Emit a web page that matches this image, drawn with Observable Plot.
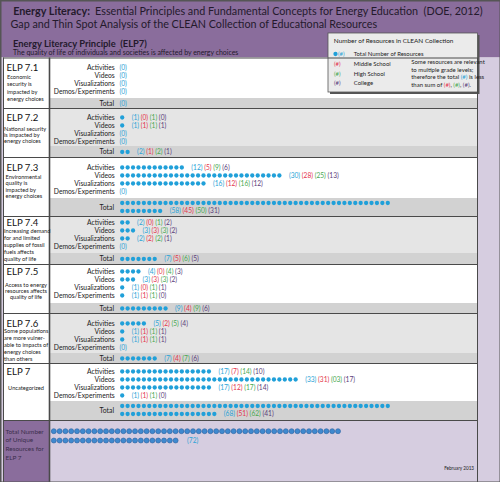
<!DOCTYPE html>
<html><head><meta charset="utf-8">
<script src="https://cdn.jsdelivr.net/npm/d3@7"></script>
<script src="https://cdn.jsdelivr.net/npm/@observablehq/plot@0.6"></script>
<style>html,body{margin:0;padding:0;background:#fff} svg{display:block}</style>
</head><body><div id="chart"></div>
<script>
// ---------------- data ----------------
const principles = ["ELP 7.1","ELP 7.2","ELP 7.3","ELP 7.4","ELP 7.5","ELP 7.6","ELP 7"];
const descriptions = [
  ["Economic","security is","impacted by","energy choices"],
  ["National security","is impacted by","energy choices"],
  ["Environmental","quality is","impacted by","energy choices"],
  ["Increasing demand","for and limited","supplies of fossil","fuels affects","quality of life"],
  ["Access to energy","resources affects","quality of life"],
  ["Some populations","are more vulner-","able to impacts of","energy choices","than others"],
  ["Uncategorized"]
];
const resourceTypes = ["Activities","Videos","Visualizations","Demos/Experiments"];
const totalByType   = [[0,0,0,0],[1,1,0,0],[12,30,16,0],[2,3,2,0],[4,3,1,1],[5,1,1,0],[17,33,17,1]];
const middleByType  = [[null,null,null,null],[0,1,null,null],[5,28,12,null],[0,3,2,null],[0,3,0,1],[2,1,1,null],[7,31,12,1]];
const highByType    = [[null,null,null,null],[1,1,null,null],[9,25,16,null],[1,3,2,null],[4,3,1,1],[5,1,1,null],[14,"03",17,1]];
const collegeByType = [[null,null,null,null],[0,1,null,null],[6,13,12,null],[2,2,1,null],[3,2,1,0],[4,1,1,null],[10,17,14,0]];
const totalByPrinciple   = [0,2,58,7,9,7,68];
const middleByPrinciple  = [null,1,45,5,4,4,51];
const highByPrinciple    = [null,2,50,6,9,7,62];
const collegeByPrinciple = [null,1,31,5,6,6,41];
const uniqueTotal = 72;
const legendLabels = ["Total Number of Resources","Middle School","High School","College"];

// ---------------- layout & style ----------------
const W = 500, H = 482;
const purple = "#8a6d9c", lavender = "#d6cde0", line = "#4a4a4a";
const C = {total:"#2aa3d6", middle:"#e4344c", high:"#47a850", college:"#5a3d7a", dot:"#20a0d9", ink:"#222"};
const secTop    = [57.5,108,157,216,264,313,363];
const secBottom = [108,157,216,264,313,363,420];
const firstRow  = [67,117,167,222,271,323,371];
const bandTop   = [98,146,198,253,303,353,401];
const descStart = [76.5,128.5,177,231,284.5,331,388];
const descStep  = [7.5,6.2,6.1,6.8,6.3,6.8,0];
const descX     = [6.5,3.5,5,3.5,25.5,3.5,25.5];
const descAnchor= ["start","start","start","start","middle","start","middle"];
const rowStep = 8, dotX0 = 121.7, dx = 5.42, perRow = 50;

const ctx = document.createElement("canvas").getContext("2d");
const FONT = "Lato";
function tw(s, size, weight="normal"){ ctx.font = `${weight} ${size}px ${FONT}`; return ctx.measureText(s).width; }
function fit(s, w, weight="normal"){ return 100*w/tw(s,100,weight); }

const rects = [], hrules = [], vrules = [], dots = [], bigDots = [], texts = [];
function addText(x,y,text,size,fill=C.ink,weight="normal",anchor="start"){ texts.push({x,y,text,fill,size:+size.toFixed(2),weight,anchor}); }
function addSegs(x,y,segs,size,weight="normal"){ let cx=x; segs.forEach(([t,f])=>{ addText(cx,y,t,size,f,weight,"start"); cx+=tw(t,size,weight);}); return cx; }

const numSize = fit("(30) (28) (25) (13)", 50);
function numberSegs(t,m,h,c){
  if (!t) return [["(0)",C.total]];
  return [["("+t+") ",C.total],["("+m+") ",C.middle],["("+h+") ",C.high],["("+c+")",C.college]];
}

// backgrounds
rects.push({x1:0,x2:W,y1:0,y2:secTop[0],fill:purple});
rects.push({x1:0,x2:W,y1:secTop[0],y2:H,fill:lavender});
principles.forEach((p,i)=>{
  rects.push({x1:3,x2:49,y1:secTop[i],y2:secBottom[i],fill:"#fff"});
  rects.push({x1:49,x2:477,y1:secTop[i],y2:bandTop[i],fill:i%2?"#e5e5e5":"#fff"});
  rects.push({x1:49,x2:477,y1:bandTop[i],y2:secBottom[i],fill:"#d2d2d2"});
  hrules.push({y:secBottom[i],x1:3,x2:477,w:1});
});
rects.push({x1:3,x2:49,y1:secBottom[6],y2:H,fill:purple});
hrules.push({y:secTop[0],x1:3,x2:477,w:1});
vrules.push({x:49,y1:secTop[0],y2:H,w:1.6},{x:477,y1:secTop[0],y2:H,w:1},{x:3,y1:secTop[0],y2:H,w:1});

// left labels and descriptions
const elpSize = fit("ELP 7.1", 32);
const descSize = fit("energy choices", 37);
principles.forEach((p,i)=>{
  addText(6,firstRow[i],p,elpSize,"#111");
  descriptions[i].forEach((d,k)=> addText(descX[i],descStart[i]+k*descStep[i],d,descSize,"#222","normal",descAnchor[i]));
});

// resource rows
const labSize = fit("Demos/Experiments", 61);
const totSize = fit("Total", 14.5);
principles.forEach((p,i)=>{
  resourceTypes.forEach((t,j)=>{
    const y = firstRow[i]+j*rowStep, n = totalByType[i][j];
    addText(114.3,y,t,labSize,C.ink,"normal","end");
    for (let k=0;k<n;k++) dots.push({x:dotX0+k*dx,y});
    const x = n ? dotX0+(n-1)*dx+9.5 : 119;
    addSegs(x,y,numberSegs(n,middleByType[i][j],highByType[i][j],collegeByType[i][j]),numSize);
  });
  const n = totalByPrinciple[i];
  const bandMid = (bandTop[i]+secBottom[i])/2;
  addText(113.5,bandMid,"Total",totSize,C.ink,"normal","end");
  const nRows = Math.max(1,Math.ceil(n/perRow));
  const rowY = r => nRows===1 ? bandMid : bandTop[i]+4.5+r*8;
  for (let k=0;k<n;k++) dots.push({x:dotX0+(k%perRow)*dx,y:rowY(Math.floor(k/perRow))});
  const lastCount = n ? n-(nRows-1)*perRow : 0;
  const x = n ? dotX0+(lastCount-1)*dx+9.5 : 119;
  addSegs(x,rowY(nRows-1),numberSegs(n,middleByPrinciple[i],highByPrinciple[i],collegeByPrinciple[i]),numSize);
});

// unique total
const ux0 = 53.3, udx = 5.8, uRowY = [430.7,440];
for (let k=0;k<uniqueTotal;k++) bigDots.push({x:ux0+(k%perRow)*udx,y:uRowY[Math.floor(k/perRow)]});
addText(ux0+(uniqueTotal-perRow-1)*udx+11.5,uRowY[1],"("+uniqueTotal+")",numSize,C.total);
const botSize = fit("Resources for", 38.3);
["Total Number","of Unique","Resources for","ELP 7"].forEach((s,k)=>addText(5,431+k*8.7,s,botSize,"#3b2d4c"));
addText(473.5,468,"February 2013",fit("February 2013",30),"#222","normal","end");

// header
const t1b = "Energy Literacy:", t1n = "Essential Principles and Fundamental Concepts for Energy Education\u00a0 (DOE, 2012)";
const t1Size = 470.3/((tw(t1b,100,"bold")+tw(t1n,100))/100+0.45);
addText(12.7,11.5,t1b,t1Size,"#241a2c","bold");
addText(12.7+tw(t1b,t1Size,"bold")+0.45*t1Size,11.5,t1n,t1Size,"#241a2c");
const t2 = "Gap and Thin Spot Analysis of the CLEAN Collection of Educational Resources";
addText(10,24.5,t2,fit(t2,367.7),"#241a2c");
const t3 = "Energy Literacy Principle\u00a0 (ELP7)";
addText(12.5,43.5,t3,fit(t3,134.5,"bold"),"#241a2c","bold");
const t4 = "The quality of life of individuals and societies is affected by energy choices";
addText(12.5,52.7,t4,fit(t4,226.5),"#241a2c");

// legend
const legBox = {x1:328,x2:477.5,y1:33,y2:92};
rects.push({x1:legBox.x1+2,x2:legBox.x2+2,y1:legBox.y1+2,y2:legBox.y2+2,fill:"#555"});
rects.push({...legBox,fill:"#ebebeb",stroke:"#555"});
const legT = "Number of Resources in CLEAN Collection";
addText(333.3,40.7,legT,fit(legT,120),"#222");
const legSize = fit("Total Number of Resources",70);
const legY = [53.5,63.3,73.1,82.9];
const legCols = [C.total,C.middle,C.high,C.college];
dots.push({x:335,y:legY[0],legend:true});
legendLabels.forEach((l,k)=>{
  addText(k===0?337.5:333.5,legY[k],"(#)",legSize,legCols[k]);
  addText(353.3,legY[k],l,legSize,"#222");
});
const rSize = fit("Some resources are relevant",73.7);
addText(410.7,62,"Some resources are relevant",rSize);
addText(410.7,69.5,"to multiple grade levels;",rSize);
addSegs(410.7,77,[["therefore the total ",C.ink],["(#)",C.total],[" is less",C.ink]],rSize);
addSegs(410.7,84.5,[["than sum of ",C.ink],["(#)",C.middle],[", ",C.ink],["(#)",C.high],[", ",C.ink],["(#)",C.college],[".",C.ink]],rSize);

// group texts by style
const groups = d3.groups(texts, d=>`${d.size}|${d.weight}|${d.anchor}`);
const textMarks = groups.map(([k,arr])=>Plot.text(arr,{x:"x",y:"y",text:"text",fill:"fill",fontSize:arr[0].size,fontWeight:arr[0].weight,textAnchor:arr[0].anchor}));

const chart = Plot.plot({
  width:W, height:H, margin:0,
  x:{domain:[0,W], range:[0,W], axis:null},
  y:{domain:[0,H], range:[0,H], axis:null},
  color:{type:"identity"},
  style:{fontFamily:FONT, background:"#fff", overflow:"hidden"},
  marks:[
    Plot.rect(rects,{x1:"x1",x2:"x2",y1:"y1",y2:"y2",fill:"fill",stroke:d=>d.stroke||"none",strokeWidth:0.8}),
    Plot.ruleY(hrules,{y:"y",x1:"x1",x2:"x2",stroke:line,strokeWidth:1}),
    Plot.ruleX(vrules,{x:"x",y1:"y1",y2:"y2",stroke:line,strokeWidth:d=>d.w}),
    Plot.frame({stroke:"#555",strokeWidth:2}),
    Plot.dot(dots,{x:"x",y:"y",r:2.15,fill:C.dot}),
    Plot.dot(bigDots,{x:"x",y:"y",r:2.5,fill:"#3f89cf",stroke:"#2c62a0",strokeWidth:0.6}),
    ...textMarks
  ]
});
document.getElementById("chart").appendChild(chart);
</script>
</body></html>
